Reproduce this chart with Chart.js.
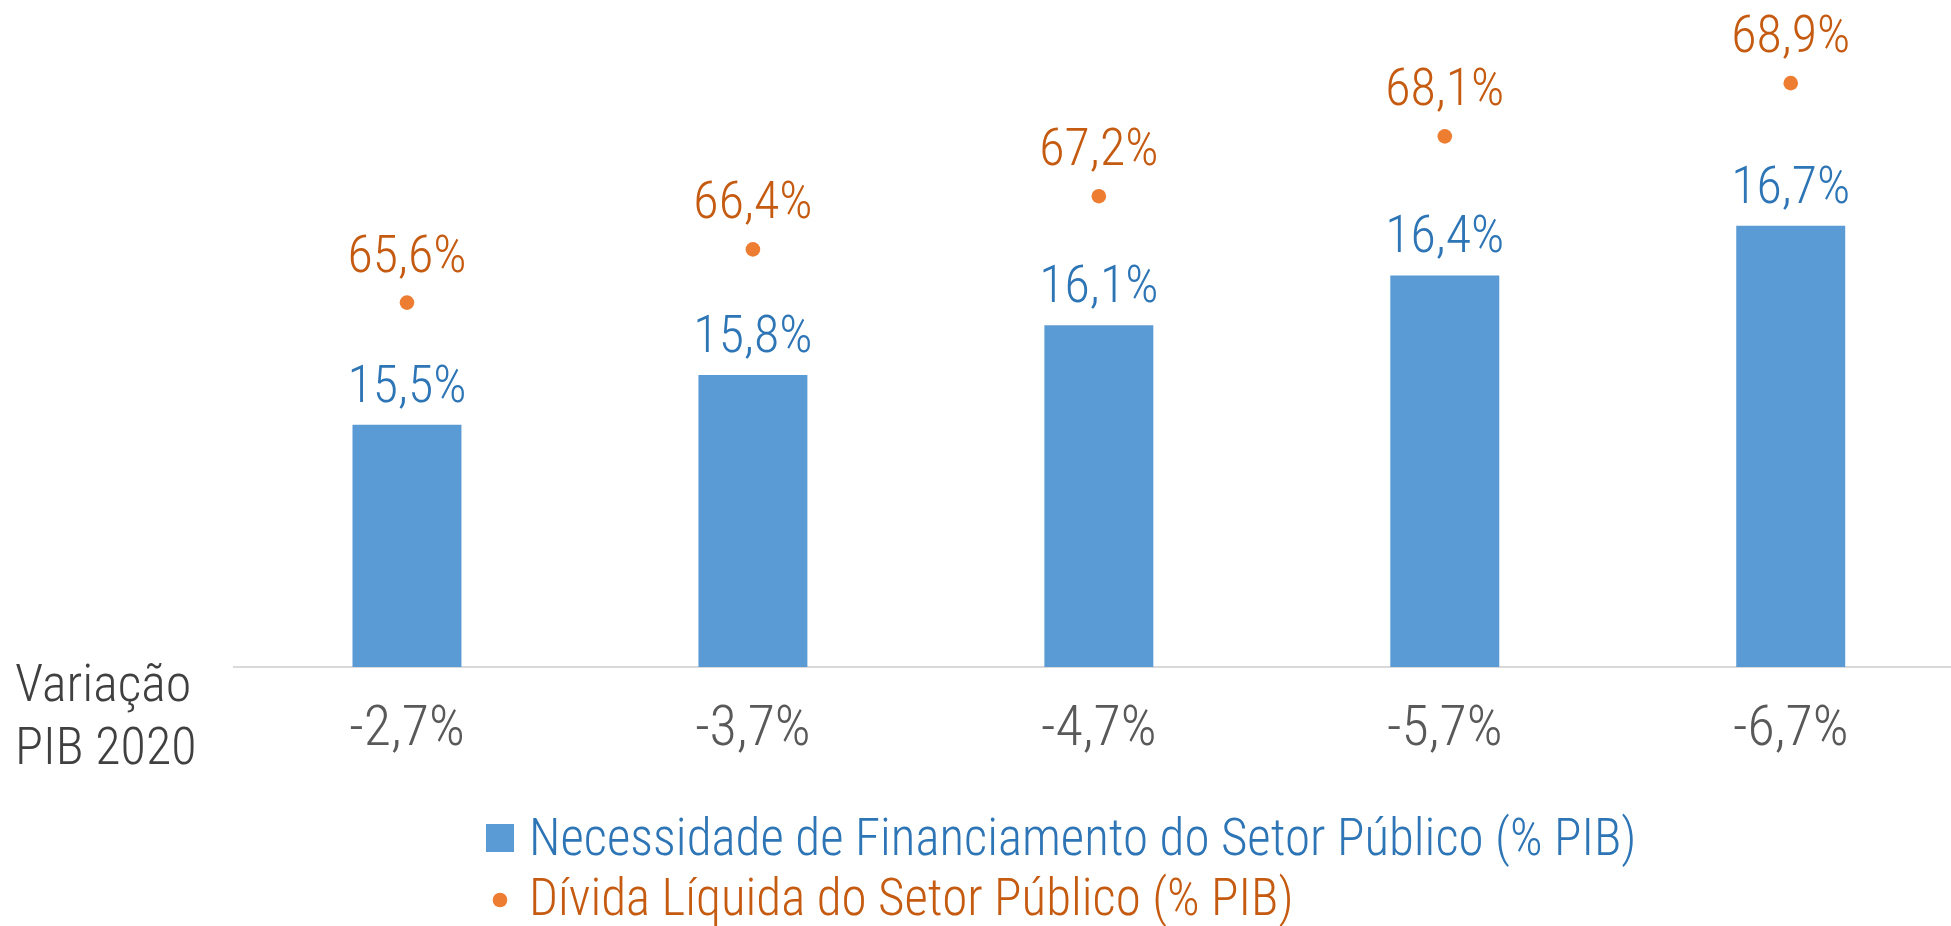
<!DOCTYPE html>
<html>
<head>
<meta charset="utf-8">
<script src="https://cdn.jsdelivr.net/npm/chart.js@4"></script>
<style>
    html, body { margin: 0; padding: 0; overflow: hidden; background: #fff; }
    #wrap { position: relative; width: 1971px; height: 926px; }
</style>
</head>
<body>
<div id="wrap"><canvas id="chart"></canvas></div>
<script>
// Chart values
const pibLabels = ['-2,7%', '-3,7%', '-4,7%', '-5,7%', '-6,7%'];
const nfspValues = [15.5, 15.8, 16.1, 16.4, 16.7];
const dividaValues = [65.6, 66.4, 67.2, 68.1, 68.9];
const seriesNames = [
    'Necessidade de Financiamento do Setor Público (% PIB)',
    'Dívida Líquida do Setor Público (% PIB)'
];
const axisTitleLines = ['Variação', 'PIB 2020'];

// condensed light Roboto, close to the narrow font of the original
const FAMILY = 'Roboto, sans-serif';
const WEIGHT = 'condensed 300';
const BAR_COLOR = '#5B9BD5';
const DOT_COLOR = '#ED7D31';
const BAR_TEXT = '#2E75B6';
const DOT_TEXT = '#C55A11';

function font(size) {
    return WEIGHT + ' ' + size + 'px ' + FAMILY;
}

// format 15.5 -> "15,5%"
function pct(v) {
    return v.toFixed(1).replace('.', ',') + '%';
}

// Draws the value labels, the left title and the legend
const extrasPlugin = {
    id: 'extras',
    afterDatasetsDraw(chart) {
        const ctx = chart.ctx;
        ctx.save();
        ctx.textAlign = 'center';
        ctx.textBaseline = 'alphabetic';
        ctx.font = font(52);

        // bar labels (dataset 1)
        ctx.fillStyle = BAR_TEXT;
        chart.getDatasetMeta(1).data.forEach(function(el, i) {
            ctx.fillText(pct(nfspValues[i]), el.x, el.y - 23);
        });

        // dot labels (dataset 0)
        ctx.fillStyle = DOT_TEXT;
        chart.getDatasetMeta(0).data.forEach(function(el, i) {
            ctx.fillText(pct(dividaValues[i]), el.x, el.y - 31);
        });

        // left title for the x axis
        ctx.textAlign = 'left';
        ctx.font = font(52);
        ctx.fillStyle = '#404040';
        ctx.fillText(axisTitleLines[0], 15, 701);
        ctx.fillText(axisTitleLines[1], 15, 764);

        // legend
        ctx.font = font(51);
        ctx.fillStyle = BAR_COLOR;
        ctx.fillRect(486, 824, 28, 28);
        ctx.fillStyle = BAR_TEXT;
        ctx.fillText(seriesNames[0], 529, 855);

        ctx.fillStyle = DOT_COLOR;
        ctx.beginPath();
        ctx.arc(500, 900, 7.3, 0, Math.PI * 2);
        ctx.fill();
        ctx.fillStyle = DOT_TEXT;
        ctx.fillText(seriesNames[1], 529, 915);
        ctx.restore();
    }
};

document.addEventListener('DOMContentLoaded', function() {
    const ctx = document.getElementById('chart').getContext('2d');

    new Chart(ctx, {
        type: 'bar',
        data: {
            labels: pibLabels,
            datasets: [{
                type: 'line',
                label: seriesNames[1],
                data: dividaValues,
                yAxisID: 'y2',
                showLine: false,
                pointRadius: 7.3,
                pointHoverRadius: 7.3,
                pointBackgroundColor: DOT_COLOR,
                pointBorderWidth: 0,
                borderColor: DOT_COLOR,
                order: 0
            }, {
                label: seriesNames[0],
                data: nfspValues,
                yAxisID: 'y',
                backgroundColor: BAR_COLOR,
                categoryPercentage: 1,
                barPercentage: 0.315,
                order: 1
            }]
        },
        options: {
            responsive: true,
            maintainAspectRatio: false,
            animation: false,
            layout: {
                padding: { top: 10, left: 234, right: 0, bottom: 0 }
            },
            scales: {
                x: {
                    grid: { display: false, drawTicks: false },
                    border: { display: true, color: '#D9D9D9', width: 2 },
                    ticks: {
                        color: '#595959',
                        font: { family: FAMILY, weight: WEIGHT, size: 56 },
                        padding: 30,
                        maxRotation: 0
                    },
                    afterFit(scale) {
                        scale.height = 259;
                    }
                },
                y: {
                    display: false,
                    min: 14.04,
                    max: 18
                },
                y2: {
                    display: false,
                    min: 60.12,
                    max: 70
                }
            },
            plugins: {
                legend: { display: false },
                tooltip: { enabled: false }
            }
        },
        plugins: [extrasPlugin]
    });
});
</script>
</body>
</html>
